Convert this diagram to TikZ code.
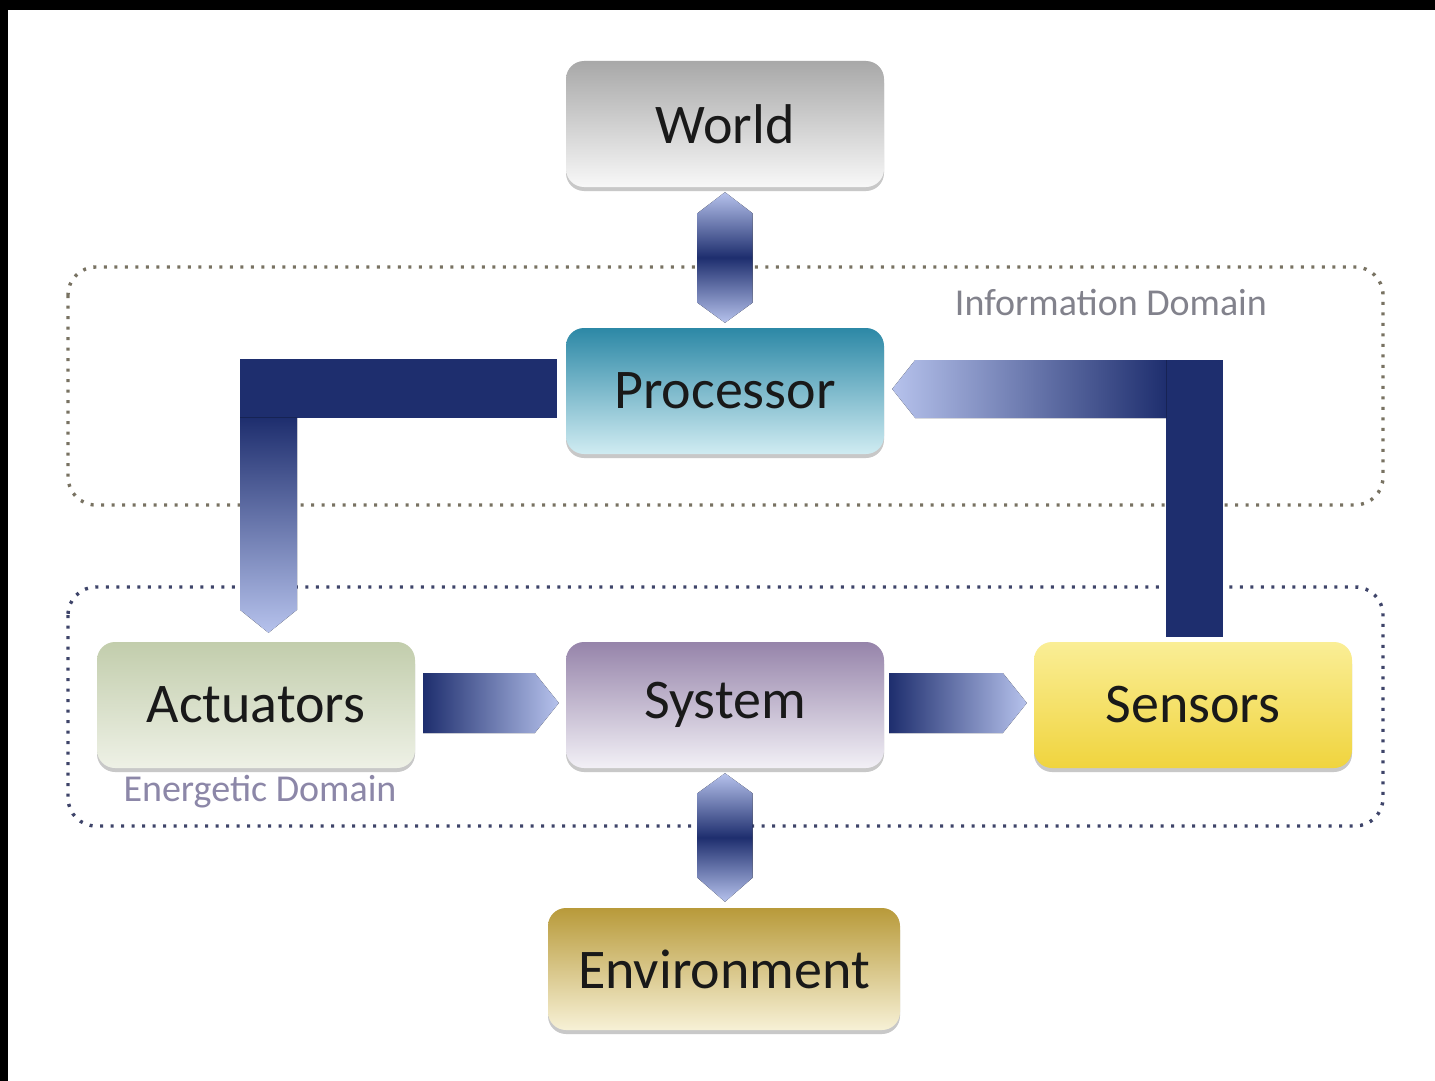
\documentclass[tikz,border=0pt]{standalone}
\usepackage{fontspec}
\setmainfont{Carlito}
\usetikzlibrary{calc,shadows}

\definecolor{navy}{RGB}{30,46,110}
\definecolor{ltnavy}{RGB}{182,194,236}
\definecolor{wtop}{RGB}{168,168,168}
\definecolor{wbot}{RGB}{248,248,248}
\definecolor{ptop}{RGB}{44,136,166}
\definecolor{pbot}{RGB}{208,236,242}
\definecolor{atop}{RGB}{194,205,172}
\definecolor{abot}{RGB}{238,241,230}
\definecolor{stop}{RGB}{150,132,170}
\definecolor{sbot}{RGB}{242,240,246}
\definecolor{ntop}{RGB}{250,238,150}
\definecolor{nbot}{RGB}{240,212,62}
\definecolor{etop}{RGB}{184,154,58}
\definecolor{ebot}{RGB}{247,241,214}
\definecolor{txt}{RGB}{25,25,25}
\definecolor{infodot}{RGB}{120,114,98}
\definecolor{enedot}{RGB}{62,68,105}
\definecolor{infolab}{RGB}{130,130,140}
\definecolor{enelab}{RGB}{140,135,168}

\begin{document}
\begin{tikzpicture}[x=1pt,y=1pt,
  box/.style={rounded corners=18pt, minimum width=318pt, minimum height=126pt,
    inner sep=0pt, text=txt, font=\fontsize{56}{60}\selectfont,
    drop shadow={shadow xshift=0pt, shadow yshift=-4pt, opacity=0.3, fill=black!70}},
  domainbox/.style={rounded corners=28pt, line width=3.4pt, dash pattern=on 3pt off 7.5pt},
  dlabel/.style={inner sep=0pt, font=\fontsize{38}{42}\selectfont},
  dblarrow/.style={top color=ltnavy, bottom color=ltnavy, middle color=navy},
  harrow/.style={left color=navy, right color=ltnavy}
]
\useasboundingbox (0,0) rectangle (1435,-1081);
\fill[white] (0,0) rectangle (1435,-1081);
\fill[black] (0,0) rectangle (1435,-10);
\fill[black] (0,0) rectangle (8,-1081);

% domains
\draw[domainbox, draw=infodot] (68,-267) rectangle (1383,-505);
\draw[domainbox, draw=enedot] (68,-587) rectangle (1383,-826);
\node[dlabel, text=infolab] (infolabel) at (1111,-302) {Information Domain};
\node[dlabel, text=enelab] (enelabel) at (260,-792) {Energetic Domain};

% boxes
\node[box, top color=wtop, bottom color=wbot] (world) at (725,-124) {World};
\node[box, top color=ptop, bottom color=pbot] (proc) at (725,-391) {Processor};
\node[box, top color=atop, bottom color=abot] (act) at (256,-705) {Actuators};
\node[box, top color=stop, bottom color=sbot] (sys) at (725,-705) {System};
\node[box, top color=ntop, bottom color=nbot] (sens) at (1193,-705) {Sensors};
\node[box, top color=etop, bottom color=ebot, minimum width=352pt, minimum height=122pt] (env) at (724,-969) {Environment};

% World <-> Processor
\coordinate (wpA) at ($(world.south)+(0,-5)$);
\coordinate (wpB) at ($(proc.north)+(0,5)$);
\fill[dblarrow] (wpA) -- ($(wpA)+(27.5,-21)$) -- ($(wpB)+(27.5,20)$) -- (wpB)
  -- ($(wpB)+(-27.5,20)$) -- ($(wpA)+(-27.5,-21)$) -- cycle;

% System <-> Environment
\coordinate (seA) at ($(sys.south)+(0,-5)$);
\coordinate (seB) at ($(sys.south |- env.north)+(0,6)$);
\fill[dblarrow] (seA) -- ($(seA)+(27.5,-20)$) -- ($(seB)+(27.5,24)$) -- (seB)
  -- ($(seB)+(-27.5,24)$) -- ($(seA)+(-27.5,-20)$) -- cycle;

% Processor -> Actuators (L shape)
\coordinate (LA) at ($(proc.west)+(-9,32)$);
\coordinate (LG) at ($(proc.west)+(-9,-27)$);
\coordinate (LT) at ($(act.north)+(12.5,9)$);
\coordinate (LL) at ($(LT)+(-28.5,0)$);
\coordinate (LR) at ($(LT)+(28.5,0)$);
\fill[navy] (LA) -- (LL |- LA) -- (LL |- LG) -- (LG) -- cycle;
\fill[top color=navy, bottom color=ltnavy]
  ($(LL |- LG)+(0,0.5)$) -- ($(LL)+(0,23)$) -- (LT) -- ($(LR)+(0,23)$) -- ($(LR |- LG)+(0,0.5)$) -- cycle;

% Sensors -> Processor (L shape)
\coordinate (RT) at ($(proc.east)+(8,2)$);
\coordinate (RB) at ($(sens.north)+(1.5,5)$);
\coordinate (RL) at ($(RB)+(-28.5,0)$);
\coordinate (RR) at ($(RB)+(28.5,0)$);
\fill[navy] ($(RL |- RT)+(0,29)$) rectangle (RR);
\fill[left color=ltnavy, right color=navy]
  (RT) -- ($(RT)+(23,29)$) -- ($(RL |- RT)+(0.5,29)$) -- ($(RL |- RT)+(0.5,-29)$) -- ($(RT)+(23,-29)$) -- cycle;

% Actuators -> System
\coordinate (asA) at ($(act.east)+(8,2)$);
\coordinate (asB) at ($(sys.west)+(-7,2)$);
\fill[harrow] ($(asA)+(0,30)$) -- ($(asB)+(-24,30)$) -- (asB) -- ($(asB)+(-24,-30)$) -- ($(asA)+(0,-30)$) -- cycle;

% System -> Sensors
\coordinate (snA) at ($(sys.east)+(5,2)$);
\coordinate (snB) at ($(sens.west)+(-7,2)$);
\fill[harrow] ($(snA)+(0,30)$) -- ($(snB)+(-24,30)$) -- (snB) -- ($(snB)+(-24,-30)$) -- ($(snA)+(0,-30)$) -- cycle;
\end{tikzpicture}
\end{document}
